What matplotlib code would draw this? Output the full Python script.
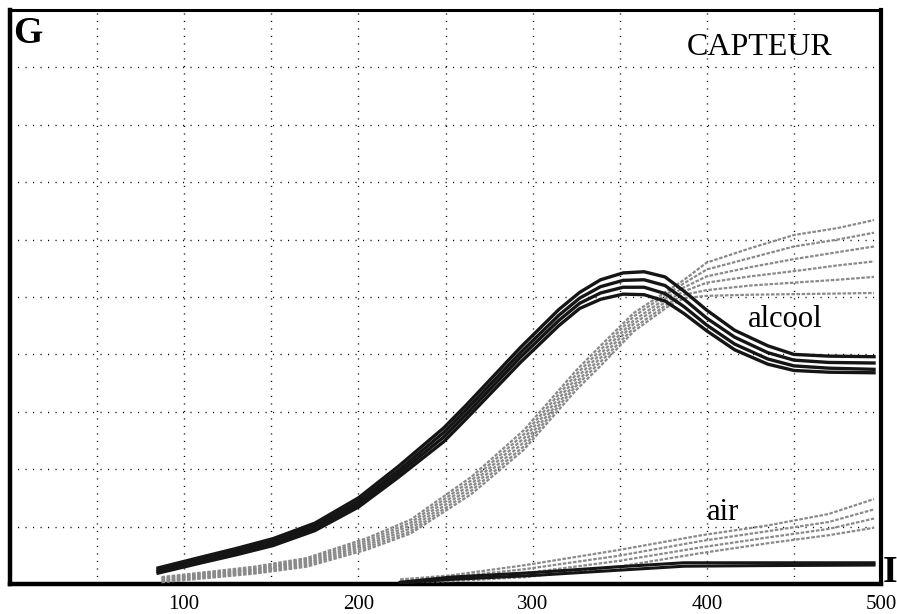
import matplotlib
matplotlib.use("Agg")
import matplotlib.pyplot as plt

# ---------------- data ----------------
x_ticks = [100, 200, 300, 400, 500]
x_tick_labels = ["100", "200", "300", "400", "500"]

# "alcool" – dark band (several superposed runs)
x_dark = [85, 110, 130, 151, 175, 200, 223, 249, 262, 293, 315, 327, 339, 352, 364, 376, 387, 400, 416, 435, 450, 470, 496]
dark_1 = [0.28, 0.47, 0.62, 0.79, 1.06, 1.50, 2.05, 2.72, 3.12, 4.12, 4.78, 5.08, 5.30, 5.42, 5.44, 5.35, 5.10, 4.77, 4.42, 4.15, 4.00, 3.97, 3.96]
dark_2 = [0.25, 0.43, 0.58, 0.75, 1.01, 1.44, 1.98, 2.64, 3.04, 4.03, 4.68, 4.98, 5.18, 5.29, 5.30, 5.20, 4.96, 4.63, 4.30, 4.03, 3.90, 3.86, 3.85]
dark_3 = [0.22, 0.40, 0.55, 0.71, 0.97, 1.39, 1.92, 2.56, 2.96, 3.95, 4.59, 4.89, 5.07, 5.17, 5.17, 5.06, 4.83, 4.51, 4.18, 3.92, 3.80, 3.76, 3.74]
dark_4 = [0.19, 0.37, 0.51, 0.67, 0.93, 1.34, 1.86, 2.48, 2.88, 3.86, 4.50, 4.80, 4.96, 5.05, 5.04, 4.93, 4.71, 4.41, 4.08, 3.83, 3.72, 3.69, 3.68]

# "alcool" – grey band (fans out at high x)
x_gray = [87, 140, 170, 205, 230, 265, 295, 325, 339, 358, 378, 387, 400, 425, 450, 475, 496]
gray_1 = [0.12, 0.30, 0.45, 0.80, 1.12, 1.87, 2.68, 3.72, 4.15, 4.72, 5.12, 5.30, 5.60, 5.85, 6.08, 6.20, 6.34]
gray_2 = [0.10, 0.27, 0.42, 0.76, 1.07, 1.81, 2.61, 3.65, 4.08, 4.66, 5.07, 5.24, 5.48, 5.68, 5.88, 6.00, 6.12]
gray_3 = [0.08, 0.25, 0.39, 0.72, 1.02, 1.75, 2.54, 3.58, 4.01, 4.59, 5.01, 5.17, 5.36, 5.52, 5.66, 5.78, 5.88]
gray_4 = [0.06, 0.23, 0.36, 0.68, 0.97, 1.69, 2.47, 3.51, 3.94, 4.53, 4.95, 5.10, 5.25, 5.36, 5.45, 5.55, 5.62]
gray_5 = [0.05, 0.20, 0.33, 0.64, 0.92, 1.63, 2.40, 3.45, 3.87, 4.46, 4.89, 5.04, 5.12, 5.20, 5.25, 5.30, 5.35]
gray_6 = [0.03, 0.18, 0.30, 0.60, 0.88, 1.57, 2.34, 3.38, 3.80, 4.40, 4.84, 4.98, 5.02, 5.04, 5.05, 5.06, 5.07]

# "air" – grey band
x_air = [224, 253, 296, 349, 397, 435, 470, 496]
air_1 = [0.08, 0.15, 0.33, 0.59, 0.85, 1.02, 1.22, 1.48]
air_2 = [0.06, 0.12, 0.26, 0.49, 0.75, 0.92, 1.08, 1.30]
air_3 = [0.04, 0.08, 0.19, 0.40, 0.64, 0.81, 0.96, 1.14]
air_4 = [0.03, 0.05, 0.12, 0.30, 0.54, 0.71, 0.85, 0.98]

# "air" – dark runs
x_air_dark = [224, 253, 301, 349, 387, 430, 496]
air_dark_1 = [0.03, 0.12, 0.20, 0.30, 0.37, 0.37, 0.37]
air_dark_2 = [0.02, 0.08, 0.15, 0.24, 0.31, 0.32, 0.33]

# ---------------- figure ----------------
plt.rcParams["font.family"] = ["Liberation Serif", "DejaVu Serif"]

W, H = 897, 614
fig = plt.figure(figsize=(W / 100, H / 100), dpi=100)
ax = fig.add_axes([10 / W, (H - 584) / H, 871 / W, 574 / H])

ax.set_xlim(0, 500)
ax.set_ylim(0, 10)

dark_col = "#151515"
gray_col = "#8a8a8a"

for y in (gray_1, gray_2, gray_3, gray_4, gray_5, gray_6):
    ax.plot(x_gray, y, color=gray_col, lw=1.6, ls=(0, (1.6, 0.7)), zorder=3)
for y in (air_1, air_2, air_3, air_4):
    ax.plot(x_air, y, color=gray_col, lw=1.6, ls=(0, (1.6, 0.7)), zorder=3)
for y in (dark_1, dark_2, dark_3, dark_4):
    ax.plot(x_dark, y, color=dark_col, lw=2.4, zorder=4, solid_joinstyle="round")
for y in (air_dark_1, air_dark_2):
    ax.plot(x_air_dark, y, color=dark_col, lw=2.2, zorder=4)

# grid
ax.set_xticks(x_ticks)
ax.set_xticklabels(x_tick_labels)
ax.set_xticks(range(50, 500, 100), minor=True)
ax.set_yticks(range(1, 10))
ax.set_yticklabels([])
ax.grid(True, which="both", color="black", lw=1.0, ls=(0, (0.8, 4.6)), zorder=1)
ax.tick_params(axis="both", which="both", length=0)
ax.tick_params(axis="x", labelsize=15, pad=8)

for side, lw in (("left", 3.2), ("bottom", 3.2), ("right", 3.0), ("top", 2.2)):
    ax.spines[side].set_linewidth(lw)
    ax.spines[side].set_color("black")

# texts
fig.text(13 / W, 1 - 43 / H, "G", fontsize=27, fontweight="bold", va="baseline", ha="left")
fig.text(883 / W, 1 - 582 / H, "I", fontsize=27, fontweight="bold", va="baseline", ha="left")
fig.text(760 / W, 1 - 55 / H, "CAPTEUR", fontsize=23, va="baseline", ha="center")
fig.text(785 / W, 1 - 327 / H, "alcool", fontsize=22, va="baseline", ha="center")
fig.text(723 / W, 1 - 520 / H, "air", fontsize=22, va="baseline", ha="center")

fig.savefig("out.png", dpi=100)
